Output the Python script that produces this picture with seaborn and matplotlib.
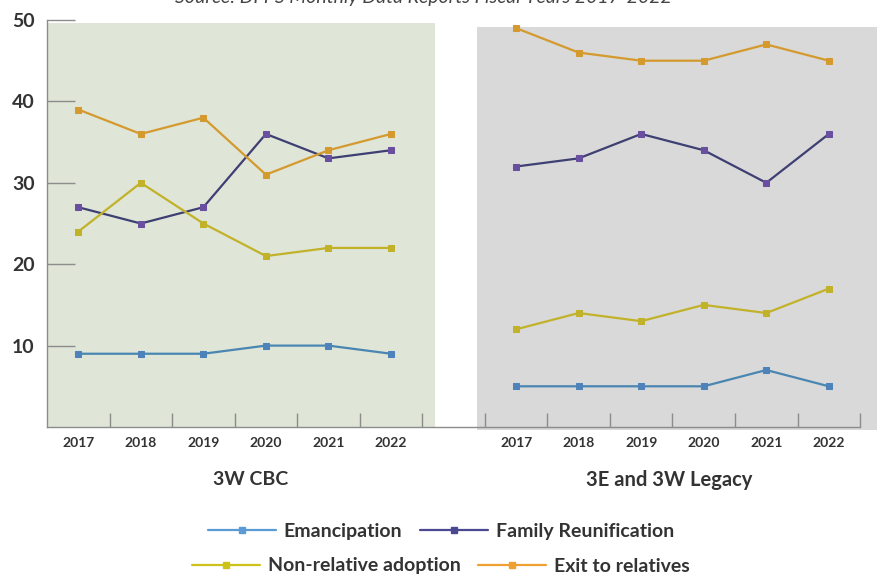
import matplotlib
matplotlib.use("Agg")
import matplotlib.pyplot as plt
from matplotlib.patches import Rectangle
from matplotlib.lines import Line2D
import seaborn as sns
import pandas as pd

sns.set_theme(style="white")
plt.rcParams["font.family"] = ["Lato", "DejaVu Sans"]

years = ["2017", "2018", "2019", "2020", "2021", "2022"]
groups = ["3W CBC", "3E and 3W Legacy"]
series = ["Emancipation", "Family Reunification", "Non-relative adoption", "Exit to relatives"]

cbc_emancipation = [9, 9, 9, 10, 10, 9]
cbc_reunification = [27, 25, 27, 36, 33, 34]
cbc_adoption = [24, 30, 25, 21, 22, 22]
cbc_relatives = [39, 36, 38, 31, 34, 36]

legacy_emancipation = [5, 5, 5, 5, 7, 5]
legacy_reunification = [32, 33, 36, 34, 30, 36]
legacy_adoption = [12, 14, 13, 15, 14, 17]
legacy_relatives = [49, 46, 45, 45, 47, 45]

line_colors = {
    "Emancipation": "#4A86B2",
    "Family Reunification": "#3E3F72",
    "Non-relative adoption": "#C2B22A",
    "Exit to relatives": "#D49A2E",
}
marker_colors = {
    "Emancipation": "#4D82BA",
    "Family Reunification": "#6A4FA0",
    "Non-relative adoption": "#C2B22A",
    "Exit to relatives": "#D49A2E",
}
legend_colors = {
    "Emancipation": "#5B9BD5",
    "Family Reunification": "#4A4891",
    "Non-relative adoption": "#CCC21A",
    "Exit to relatives": "#F0A030",
}

# Each panel occupies six slots on a shared x axis, with one empty slot between them
panel_offset = {"3W CBC": 0, "3E and 3W Legacy": 7}
values = {
    "3W CBC": [cbc_emancipation, cbc_reunification, cbc_adoption, cbc_relatives],
    "3E and 3W Legacy": [legacy_emancipation, legacy_reunification, legacy_adoption, legacy_relatives],
}

rows = []
for g in groups:
    for s, vals in zip(series, values[g]):
        for i, (y, v) in enumerate(zip(years, vals)):
            rows.append({"group": g, "series": s, "year": y,
                         "pos": panel_offset[g] + i, "value": v})
df = pd.DataFrame(rows)

fig = plt.figure(figsize=(8.77, 5.77), dpi=100)
ax = fig.add_axes([47 / 877, 150 / 577, 830 / 877, 407 / 577])
ax.set_xlim(-0.5, 12.77)
ax.set_ylim(0, 50)
ax.patch.set_alpha(0)

# Panel backgrounds
ax.add_patch(Rectangle((-0.5, 0), 6.2, 49.6, facecolor="#DFE5D7", edgecolor="none",
                       zorder=0, clip_on=False))
ax.add_patch(Rectangle((6.38, -0.4), 6.39, 49.6, facecolor="#D9D9D9", edgecolor="none",
                       zorder=0, clip_on=False))

for g in groups:
    for s in series:
        sub = df[(df.group == g) & (df.series == s)]
        sns.lineplot(data=sub, x="pos", y="value", ax=ax, color=line_colors[s],
                     linewidth=1.6, marker="s", markersize=4.5,
                     markerfacecolor=marker_colors[s], markeredgecolor=marker_colors[s],
                     legend=False, zorder=3, clip_on=False)

# Axes styling
for side in ["top", "right"]:
    ax.spines[side].set_visible(False)
ax.spines["left"].set_color("#8C8C8C")
ax.spines["bottom"].set_color("#8C8C8C")
ax.spines["left"].set_linewidth(1.0)
ax.spines["bottom"].set_linewidth(1.0)
ax.spines["bottom"].set_bounds(-0.5, 12.5)

ax.set_yticks([10, 20, 30, 40, 50])
ax.set_yticklabels(["10", "20", "30", "40", "50"], fontsize=14, fontweight="bold",
                   color="#333333")
ax.tick_params(axis="y", direction="in", length=20, width=1.0, color="#8C8C8C", pad=9,
               left=True)

centers = list(range(0, 6)) + list(range(7, 13))
ax.set_xticks(centers)
ax.set_xticklabels(years + years, fontsize=10, fontweight="bold", color="#333333")
ax.set_xticks([i + 0.5 for i in range(0, 6)] + [i + 0.5 for i in range(6, 13)], minor=True)
ax.tick_params(axis="x", which="major", length=0, pad=7)
ax.tick_params(axis="x", which="minor", direction="in", length=10, width=1.0,
               color="#8C8C8C", bottom=True)
ax.set_xlabel("")
ax.set_ylabel("")

# Panel labels
ax.text(2.75, -6.5, "3W CBC", ha="center", va="center", fontsize=14, fontweight="bold",
        color="#333333")
ax.text(9.45, -6.5, "3E and 3W Legacy", ha="center", va="center", fontsize=14.5,
        fontweight="bold", color="#333333")

fig.text(423 / 877, 1 - 3 / 577, "Source: DFPS Monthly Data Reports Fiscal Years 2017-2022",
         ha="center", va="baseline", fontsize=14, style="italic", color="#444444")

def handle(s):
    return Line2D([0], [0], color=legend_colors[s], linewidth=1.6, marker="s",
                  markersize=4.5, markerfacecolor=legend_colors[s],
                  markeredgecolor=legend_colors[s])

legend_kw = dict(frameon=False, ncol=2, handlelength=3.5,
                 handletextpad=0.4, columnspacing=0.9, borderpad=0,
                 prop={"family": ["Lato", "DejaVu Sans"], "weight": "bold", "size": 14})
leg1 = fig.legend([handle(s) for s in series[:2]], series[:2],
                  loc="center", bbox_to_anchor=(441 / 877, 1 - 531 / 577), **legend_kw)
leg2 = fig.legend([handle(s) for s in series[2:]], series[2:],
                  loc="center", bbox_to_anchor=(441 / 877, 1 - 566 / 577), **legend_kw)
for leg in (leg1, leg2):
    for t in leg.get_texts():
        t.set_color("#333333")

fig.savefig("out.png", dpi=100)
